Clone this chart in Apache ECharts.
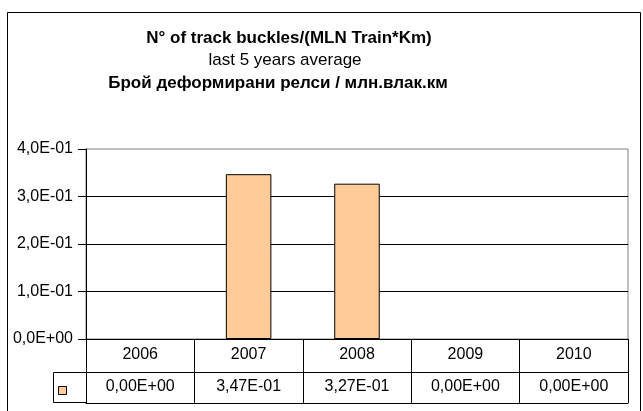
<!DOCTYPE html>
<html>
<head>
<meta charset="utf-8">
<script src="https://cdn.jsdelivr.net/npm/echarts@6/dist/echarts.min.js"></script>
<style>
  html, body { margin: 0; padding: 0; background: #fff; }
  #chart { width: 643px; height: 411px; }
</style>
</head>
<body>
<div id="chart"></div>
<script>
const years = ["2006", "2007", "2008", "2009", "2010"];
const buckles = [0, 0.347, 0.327, 0, 0];
const titleLines = [
  "N° of track buckles/(MLN Train*Km)",
  "last 5 years average",
  "Брой деформирани релси / млн.влак.км"
];
const FONT = '"Liberation Sans", Arial, sans-serif';

// 0.347 -> "3,47E-01"
function sci(v, digits) {
  const s = v.toExponential(digits);
  const parts = s.split("e");
  const exp = parseInt(parts[1], 10);
  const sign = exp < 0 ? "-" : "+";
  return parts[0].replace(".", ",") + "E" + sign + String(Math.abs(exp)).padStart(2, "0");
}

var myChart = echarts.init(document.getElementById("chart"));

const option = {
  animation: false,
  textStyle: { fontFamily: FONT },
  grid: {
    left: 86,
    right: 15,
    top: 149,
    bottom: 72,
    show: true,
    borderColor: "#808080",
    borderWidth: 1
  },
  legend: {
    data: ["buckles"],
    left: 53,
    top: 381,
    itemWidth: 8,
    itemHeight: 8,
    icon: "rect",
    formatter: function () { return ""; },
    itemStyle: { color: "#FFCC99", borderColor: "#000", borderWidth: 1 }
  },
  xAxis: [
    {
      type: "category",
      data: years,
      position: "bottom",
      axisLine: { lineStyle: { color: "#000", width: 1 } },
      axisTick: { show: true, interval: 0, length: 64, lineStyle: { color: "#000" } },
      axisLabel: { interval: 0, margin: 8, color: "#000", fontSize: 16, fontFamily: FONT }
    },
    {
      type: "category",
      data: years,
      position: "bottom",
      offset: 33,
      axisLine: { lineStyle: { color: "#000", width: 1 } },
      axisTick: { show: false },
      axisLabel: {
        interval: 0,
        margin: 7,
        color: "#000",
        fontSize: 16,
        fontFamily: FONT,
        formatter: function (v, i) { return sci(buckles[i], 2); }
      }
    },
    {
      type: "category",
      data: years,
      position: "bottom",
      offset: 64,
      axisLine: { lineStyle: { color: "#000", width: 1 } },
      axisTick: { show: false },
      axisLabel: { show: false }
    }
  ],
  yAxis: {
    type: "value",
    min: 0,
    max: 0.4,
    interval: 0.1,
    axisLine: { show: true, lineStyle: { color: "#000" } },
    axisTick: { show: true, length: 8, lineStyle: { color: "#000" } },
    axisLabel: {
      margin: 13,
      color: "#000",
      fontSize: 16,
      fontFamily: FONT,
      formatter: function (v) { return sci(v, 1); }
    },
    splitLine: { show: true, showMaxLine: false, lineStyle: { color: "#000", width: 1 } }
  },
  series: [
    {
      name: "buckles",
      type: "bar",
      xAxisIndex: 0,
      // zero values get no outline so nothing shows on the axis
      data: buckles.map(function (v) {
        return { value: v, itemStyle: { borderWidth: v ? 1 : 0 } };
      }),
      barWidth: "42%",
      itemStyle: { color: "#FFCC99", borderColor: "#000", borderWidth: 1 }
    }
  ],
  graphic: [
    {
      type: "rect",
      shape: { x: 7.5, y: 12.5, width: 633, height: 420 },
      style: { fill: "none", stroke: "#000", lineWidth: 1 },
      silent: true
    },
    {
      type: "rect",
      shape: { x: 53.5, y: 372.5, width: 33, height: 30 },
      style: { fill: "none", stroke: "#000", lineWidth: 1 },
      silent: true
    },
    {
      type: "text",
      x: 289, y: 38,
      style: { text: titleLines[0], font: "bold 17px " + FONT, fill: "#000", textAlign: "center", textVerticalAlign: "middle" }
    },
    {
      type: "text",
      x: 285, y: 60,
      style: { text: titleLines[1], font: "17px " + FONT, fill: "#000", textAlign: "center", textVerticalAlign: "middle" }
    },
    {
      type: "text",
      x: 278, y: 83,
      style: { text: titleLines[2], font: "bold 17px " + FONT, fill: "#000", textAlign: "center", textVerticalAlign: "middle" }
    }
  ]
};

myChart.setOption(option);
</script>
</body>
</html>
